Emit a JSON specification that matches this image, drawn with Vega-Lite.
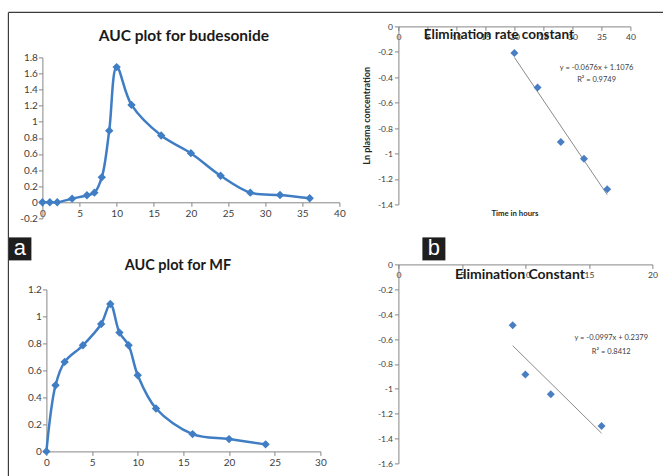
{
  "$schema": "https://vega.github.io/schema/vega-lite/v6.json",
  "background": "white",
  "padding": {"left": 7.4, "top": 11.4, "right": 0, "bottom": 0},
  "bounds": "flush",
  "align": "each",
  "columns": 2,
  "spacing": {"row": 46, "column": 59},
  "datasets": {
    "budesonide": [
      {"time": 0, "auc": 0}, {"time": 1, "auc": 0}, {"time": 2, "auc": 0},
      {"time": 4, "auc": 0.045}, {"time": 6, "auc": 0.087}, {"time": 7, "auc": 0.12},
      {"time": 8, "auc": 0.31}, {"time": 9, "auc": 0.89}, {"time": 10, "auc": 1.68},
      {"time": 12, "auc": 1.21}, {"time": 16, "auc": 0.83}, {"time": 20, "auc": 0.61},
      {"time": 24, "auc": 0.33}, {"time": 28, "auc": 0.12}, {"time": 32, "auc": 0.09},
      {"time": 36, "auc": 0.05}
    ],
    "mf": [
      {"time": 0, "auc": 0}, {"time": 1, "auc": 0.49}, {"time": 2, "auc": 0.663},
      {"time": 4, "auc": 0.786}, {"time": 6, "auc": 0.944}, {"time": 7, "auc": 1.092},
      {"time": 8, "auc": 0.88}, {"time": 9, "auc": 0.786}, {"time": 10, "auc": 0.564},
      {"time": 12, "auc": 0.318}, {"time": 16, "auc": 0.128}, {"time": 20, "auc": 0.091},
      {"time": 24, "auc": 0.052}
    ],
    "budesonide_elim": [
      {"time": 20, "ln_conc": -0.21}, {"time": 24, "ln_conc": -0.48},
      {"time": 28, "ln_conc": -0.91}, {"time": 32, "ln_conc": -1.04},
      {"time": 36, "ln_conc": -1.28}
    ],
    "mf_elim": [
      {"time": 9, "ln_conc": -0.49}, {"time": 10, "ln_conc": -0.885},
      {"time": 12, "ln_conc": -1.045}, {"time": 16, "ln_conc": -1.3}
    ]
  },
  "config": {
    "view": {"stroke": null},
    "locale": {"number": {"decimal": ".", "thousands": ",", "grouping": [3], "currency": ["$", ""], "minus": "-"}},
    "axis": {
      "grid": false,
      "domainColor": "#878787",
      "tickColor": "#878787",
      "tickSize": 4,
      "labelColor": "#404040",
      "labelFlush": false,
      "labelOverlap": false,
      "labelPadding": 2,
      "titleColor": "#262626"
    },
    "title": {"color": "#1a1a1a", "fontWeight": "bold", "baseline": "alphabetic", "frame": "group"}
  },
  "concat": [
    {
      "width": 297,
      "height": 192,
      "title": {"text": "AUC plot for budesonide", "font": "Lato", "fontSize": 15.5, "dx": -7, "offset": -18.6},
      "layer": [
        {
          "data": {"name": "budesonide"},
          "mark": {"type": "line", "interpolate": "catmull-rom", "color": "#3F7DC4", "strokeWidth": 2.5},
          "encoding": {
            "x": {
              "field": "time", "type": "quantitative",
              "scale": {"domain": [0, 40]},
              "axis": {"title": null, "values": [0, 5, 10, 15, 20, 25, 30, 35, 40], "tickCount": 100, "format": "d", "offset": -16.1, "labelFont": "Lato", "labelFontSize": 10}
            },
            "y": {
              "field": "auc", "type": "quantitative",
              "scale": {"domain": [-0.2, 1.8], "range": [192, 31]},
              "axis": {"title": null, "values": [-0.2, 0, 0.2, 0.4, 0.6, 0.8, 1, 1.2, 1.4, 1.6, 1.8], "tickCount": 100, "format": "~g", "labelFont": "Lato", "labelFontSize": 10, "labelPadding": 1}
            }
          }
        },
        {
          "data": {"name": "budesonide"},
          "mark": {"type": "point", "shape": "diamond", "filled": true, "opacity": 1, "size": 70, "color": "#3F7DC4"},
          "encoding": {
            "x": {"field": "time", "type": "quantitative"},
            "y": {"field": "auc", "type": "quantitative"}
          }
        },
        {
          "data": {"values": [{"panel": "a"}]},
          "mark": {"type": "point", "shape": "square", "filled": true, "opacity": 1, "size": 529, "color": "#1e1e1e"},
          "encoding": {"x": {"datum": -3.03}, "y": {"datum": -0.579}}
        },
        {
          "data": {"values": [{"panel": "a"}]},
          "mark": {"type": "text", "font": "Liberation Sans", "fontSize": 22, "color": "white", "align": "center", "baseline": "alphabetic"},
          "encoding": {"x": {"datum": -3.03}, "y": {"datum": -0.66}, "text": {"field": "panel"}}
        }
      ]
    },
    {
      "width": 232,
      "height": 178,
      "title": {"text": "Elimination rate constant", "font": "Lato", "fontSize": 13.5, "dx": -15.5, "offset": -30.1},
      "layer": [
        {
          "data": {"values": [{}]},
          "mark": {"type": "rule", "color": "#3c3c3c", "strokeWidth": 1.2},
          "encoding": {"x": {"datum": -67.24}, "x2": {"datum": 46.9}, "y": {"datum": 0.11}}
        },
        {
          "data": {"values": [{}]},
          "mark": {"type": "rule", "color": "#3c3c3c", "strokeWidth": 1.2},
          "encoding": {"x": {"datum": -67.24}, "y": {"datum": 0.11}, "y2": {"datum": -3.571}}
        },
        {
          "data": {"name": "budesonide_elim"},
          "transform": [{"regression": "ln_conc", "on": "time"}],
          "mark": {"type": "line", "color": "#8a8a8a", "strokeWidth": 1},
          "encoding": {
            "x": {
              "field": "time", "type": "quantitative",
              "scale": {"domain": [0, 40]},
              "axis": {
                "orient": "bottom", "offset": -178,
                "values": [0, 5, 10, 15, 20, 25, 30, 35, 40], "tickCount": 100, "format": "d",
                "title": "Time in hours", "titleY": 189, "titleBaseline": "alphabetic",
                "titleFont": "Lato", "titleFontSize": 7.8, "titleFontWeight": "bold",
                "labelFont": "Lato", "labelFontSize": 8.5
              }
            },
            "y": {
              "field": "ln_conc", "type": "quantitative",
              "scale": {"domain": [-1.4, 0]},
              "axis": {
                "values": [-1.4, -1.2, -1, -0.8, -0.6, -0.4, -0.2, 0], "tickCount": 100, "format": "~g",
                "title": "Ln plasma concentration", "titlePadding": 6,
                "titleFont": "Lato", "titleFontSize": 9, "titleFontWeight": "bold",
                "labelFont": "Lato", "labelFontSize": 8.5
              }
            }
          }
        },
        {
          "data": {"name": "budesonide_elim"},
          "mark": {"type": "point", "shape": "diamond", "filled": true, "opacity": 1, "size": 64, "color": "#4A7EC2"},
          "encoding": {
            "x": {"field": "time", "type": "quantitative"},
            "y": {"field": "ln_conc", "type": "quantitative"}
          }
        },
        {
          "data": {"values": [{}]},
          "mark": {"type": "text", "font": "Lato", "fontSize": 7.5, "color": "#404040", "align": "center", "baseline": "alphabetic", "lineHeight": 12.5},
          "encoding": {
            "x": {"datum": 34.17}, "y": {"datum": -0.342},
            "text": {"value": ["y = -0.0676x + 1.1076", "R² = 0.9749"]}
          }
        },
        {
          "data": {"values": [{"panel": "b"}]},
          "mark": {"type": "point", "shape": "square", "filled": true, "opacity": 1, "size": 529, "color": "#1e1e1e"},
          "encoding": {"x": {"datum": 6.12}, "y": {"datum": -1.75}}
        },
        {
          "data": {"values": [{"panel": "b"}]},
          "mark": {"type": "text", "font": "Liberation Sans", "fontSize": 22, "color": "white", "align": "center", "baseline": "alphabetic"},
          "encoding": {"x": {"datum": 6.12}, "y": {"datum": -1.801}, "text": {"field": "panel"}}
        }
      ]
    },
    {
      "width": 278,
      "height": 187,
      "title": {"text": "AUC plot for MF", "font": "Lato", "fontSize": 14.5, "dx": -3.5, "offset": -9.6},
      "layer": [
        {
          "data": {"name": "mf"},
          "mark": {"type": "line", "interpolate": "catmull-rom", "color": "#3F7DC4", "strokeWidth": 2.5},
          "encoding": {
            "x": {
              "field": "time", "type": "quantitative",
              "scale": {"domain": [0, 30], "range": [4, 278]},
              "axis": {"title": null, "values": [0, 5, 10, 15, 20, 25, 30], "tickCount": 100, "format": "d", "labelFont": "Lato", "labelFontSize": 10}
            },
            "y": {
              "field": "auc", "type": "quantitative",
              "scale": {"domain": [0, 1.2], "range": [187, 25]},
              "axis": {"title": null, "offset": -4, "values": [0, 0.2, 0.4, 0.6, 0.8, 1, 1.2], "tickCount": 100, "format": "~g", "labelFont": "Lato", "labelFontSize": 10, "labelPadding": 1}
            }
          }
        },
        {
          "data": {"name": "mf"},
          "mark": {"type": "point", "shape": "diamond", "filled": true, "opacity": 1, "size": 70, "color": "#3F7DC4"},
          "encoding": {
            "x": {"field": "time", "type": "quantitative"},
            "y": {"field": "auc", "type": "quantitative"}
          }
        }
      ]
    },
    {
      "width": 254,
      "height": 199,
      "title": {"text": "Elimination Constant", "font": "Lato", "fontSize": 14, "dx": -5.5, "offset": -21.2},
      "layer": [
        {
          "data": {"name": "mf_elim"},
          "transform": [{"regression": "ln_conc", "on": "time"}],
          "mark": {"type": "line", "color": "#8a8a8a", "strokeWidth": 1},
          "encoding": {
            "x": {
              "field": "time", "type": "quantitative",
              "scale": {"domain": [0, 20]},
              "axis": {
                "orient": "bottom", "offset": -199, "title": null,
                "values": [0, 5, 10, 15, 20], "tickCount": 100, "format": "d",
                "labelFont": "Lato", "labelFontSize": 8.5
              }
            },
            "y": {
              "field": "ln_conc", "type": "quantitative",
              "scale": {"domain": [-1.6, 0]},
              "axis": {
                "title": null,
                "values": [-1.6, -1.4, -1.2, -1, -0.8, -0.6, -0.4, -0.2, 0], "tickCount": 100, "format": "~g",
                "labelFont": "Lato", "labelFontSize": 8.5
              }
            }
          }
        },
        {
          "data": {"name": "mf_elim"},
          "mark": {"type": "point", "shape": "diamond", "filled": true, "opacity": 1, "size": 64, "color": "#4A7EC2"},
          "encoding": {
            "x": {"field": "time", "type": "quantitative"},
            "y": {"field": "ln_conc", "type": "quantitative"}
          }
        },
        {
          "data": {"values": [{}]},
          "mark": {"type": "text", "font": "Lato", "fontSize": 7.5, "color": "#404040", "align": "center", "baseline": "alphabetic", "lineHeight": 13.5},
          "encoding": {
            "x": {"datum": 16.76}, "y": {"datum": -0.611},
            "text": {"value": ["y = -0.0997x + 0.2379", "R² = 0.8412"]}
          }
        }
      ]
    }
  ]
}
